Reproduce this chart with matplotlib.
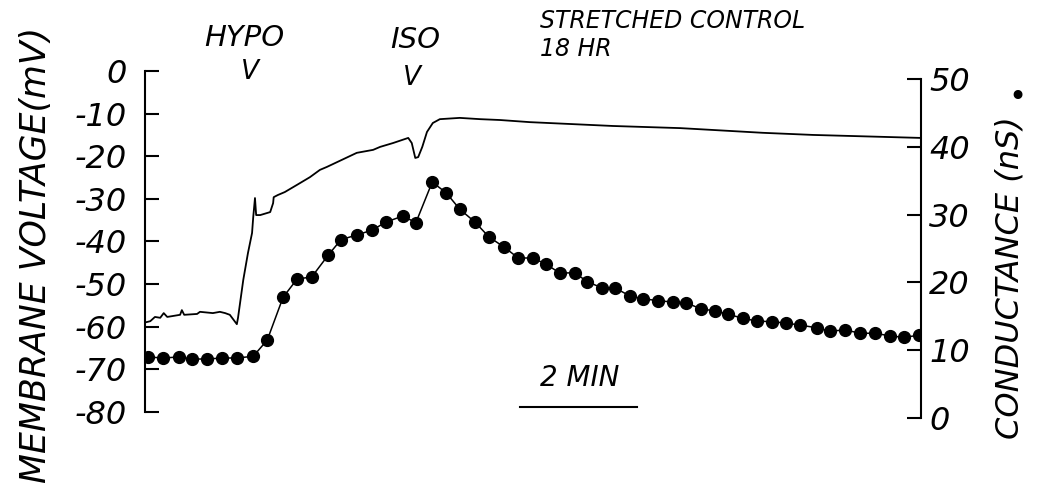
import matplotlib
matplotlib.use('Agg')
import matplotlib.pyplot as plt

# membrane voltage trace (min, mV)
v_time = [0.03, 0.09, 0.17, 0.26, 0.32, 0.38, 0.60, 0.63, 0.67, 0.89, 0.94,
          1.16, 1.28, 1.37, 1.45, 1.57, 1.59, 1.68, 1.76, 1.83, 1.85, 1.88,
          1.90, 1.97, 2.14, 2.19, 2.20, 2.27, 2.39, 2.60, 2.82, 2.99, 3.11,
          3.62, 3.90, 4.02, 4.24, 4.50, 4.56, 4.62, 4.67, 4.74, 4.82, 4.92,
          5.04, 5.38, 5.73, 6.07, 6.58, 8.00, 9.15, 10.56, 11.42, 13.26]
v_mv = [-58.9, -58.7, -57.7, -57.9, -56.8, -57.7, -57.2, -56.1, -57.2, -57.0, -56.5,
        -56.8, -56.5, -56.8, -57.2, -59.4, -57.9, -49.0, -42.7, -38.0, -34.3, -29.8,
        -33.8, -33.8, -33.1, -31.0, -29.6, -29.1, -28.4, -26.7, -24.9, -23.2, -22.5,
        -19.2, -18.5, -17.8, -16.9, -15.7, -16.9, -20.4, -20.2, -17.8, -14.3, -12.2,
        -11.3, -11.0, -11.3, -11.5, -12.0, -12.9, -13.4, -14.5, -15.0, -15.7]

# conductance points (min, nS)
g_time = [0.05, 0.31, 0.58, 0.80, 1.06, 1.32, 1.57, 1.85, 2.09, 2.36, 2.60,
          2.85, 3.13, 3.35, 3.62, 3.88, 4.12, 4.41, 4.63, 4.91, 5.15, 5.38,
          5.64, 5.88, 6.14, 6.38, 6.63, 6.85, 7.09, 7.35, 7.56, 7.81, 8.03,
          8.29, 8.51, 8.77, 9.03, 9.25, 9.50, 9.74, 9.97, 10.22, 10.46, 10.72,
          10.96, 11.20, 11.49, 11.71, 11.97, 12.22, 12.48, 12.74, 12.97, 13.23]
g_ns = [9.0, 8.85, 9.0, 8.7, 8.7, 8.85, 8.85, 9.1, 11.5, 17.8, 20.5,
        20.8, 24.0, 26.3, 27.0, 27.7, 28.9, 29.8, 28.8, 34.8, 33.2, 30.8,
        28.9, 26.7, 25.2, 23.6, 23.6, 22.7, 21.4, 21.4, 20.1, 19.2, 19.2,
        18.0, 17.6, 17.3, 17.1, 17.0, 16.1, 15.8, 15.3, 14.7, 14.3, 14.2,
        14.0, 13.7, 13.3, 12.8, 13.0, 12.5, 12.5, 12.1, 11.9, 12.2]

v_ticks = [0, -10, -20, -30, -40, -50, -60, -70, -80]
g_ticks = [0, 10, 20, 30, 40, 50]
bar_start, bar_len = 6.41, 2.0   # "2 MIN" scale bar

FONT = dict(family='DejaVu Sans', style='italic')

fig = plt.figure(figsize=(10.46, 4.91), dpi=100)
ax = fig.add_axes([145/1046, 73/491, 776/1046, 347/491])
ax2 = ax.twinx()

ax.plot(v_time, v_mv, color='black', lw=1.3)
ax2.plot(g_time, g_ns, color='black', lw=1.1, marker='o', ms=8.5)

ax.set_xlim(0, 13.265)
ax.set_ylim(-81.41, 0)
ax2.set_ylim(0, 51.18)

for a in (ax, ax2):
    for s in ('top', 'bottom'):
        a.spines[s].set_visible(False)
    a.set_xticks([])
ax.spines['right'].set_visible(False)
ax2.spines['left'].set_visible(False)
ax.spines['left'].set_bounds(-80, 0)
ax2.spines['right'].set_bounds(0, 50)
for s in (ax.spines['left'], ax2.spines['right']):
    s.set_linewidth(1.5)

ax.set_yticks(v_ticks)
ax.set_yticklabels([str(t) for t in v_ticks], **FONT, fontsize=23)
ax.tick_params(axis='y', direction='in', length=10, width=1.5, pad=13)
ax2.set_yticks(g_ticks)
ax2.set_yticklabels([str(t) for t in g_ticks], **FONT, fontsize=23)
ax2.tick_params(axis='y', direction='in', length=10, width=1.5, pad=6)

# scale bar
ax.plot([bar_start, bar_start + bar_len], [-78.8, -78.8], color='black', lw=1.5)
fig.text(0.554, 0.230, '2 MIN', ha='center', va='center', fontsize=20, **FONT)

fig.text(0.034, 0.48, 'MEMBRANE VOLTAGE(mV)', rotation=90, ha='center',
         va='center', fontsize=25, **FONT)
fig.text(0.966, 0.434, 'CONDUCTANCE (nS)', rotation=90, ha='center',
         va='center', fontsize=23, **FONT)
fig.text(0.973, 0.802, '\u2022', ha='center', va='center', fontsize=22)

fig.text(0.234, 0.923, 'HYPO', ha='center', va='center', fontsize=21, **FONT)
fig.text(0.239, 0.853, 'V', ha='center', va='center', fontsize=19, **FONT)
fig.text(0.397, 0.919, 'ISO', ha='center', va='center', fontsize=21, **FONT)
fig.text(0.394, 0.841, 'V', ha='center', va='center', fontsize=19, **FONT)
fig.text(0.516, 0.958, 'STRETCHED CONTROL', ha='left', va='center', fontsize=17, **FONT)
fig.text(0.516, 0.900, '18 HR', ha='left', va='center', fontsize=17, **FONT)

fig.savefig('out.png', dpi=100)
